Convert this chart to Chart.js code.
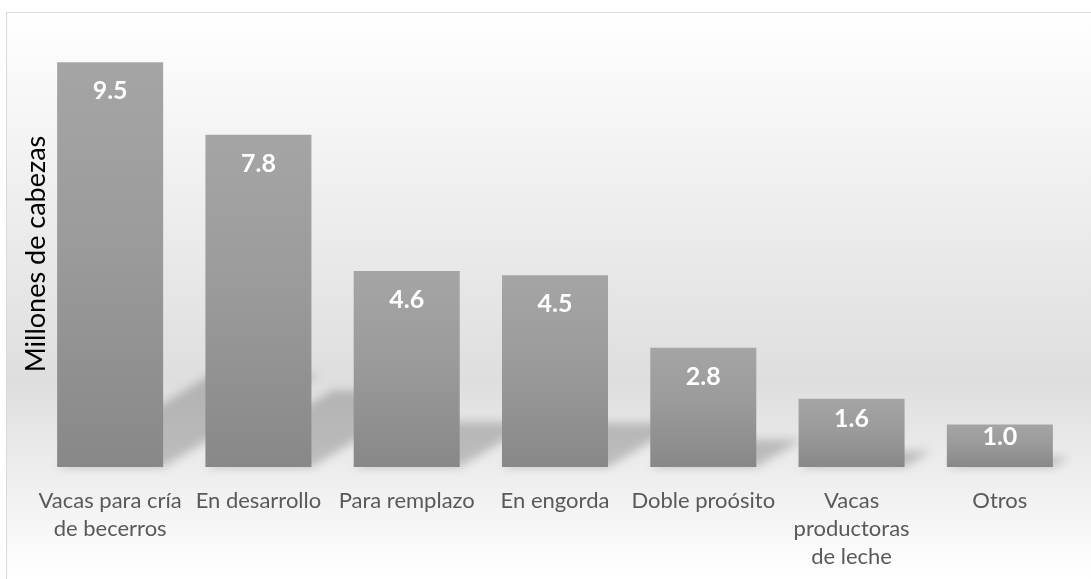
<!DOCTYPE html>
<html>
<head>
<meta charset="utf-8">
<script src="https://cdn.jsdelivr.net/npm/chart.js@4"></script>
<style>
  html, body { margin: 0; padding: 0; background: #fff; }
  #wrap { width: 1091px; height: 579px; }
</style>
</head>
<body>
<div id="wrap"><canvas id="chart" width="1091" height="579"></canvas></div>
<script>
const categories = [
  ["Vacas para cría", "de becerros"],
  "En desarrollo",
  "Para remplazo",
  "En engorda",
  "Doble proósito",
  ["Vacas", "productoras", "de leche"],
  "Otros",
];
const cabezas = [9.5, 7.8, 4.6, 4.5, 2.8, 1.6, 1.0];
const yTitle = "Millones de cabezas";

// chart background: light gradient inside a thin frame
const backdrop = {
  id: "backdrop",
  beforeDraw(chart) {
    const { ctx, width, height } = chart;
    ctx.save();
    ctx.fillStyle = "#ffffff";
    ctx.fillRect(0, 0, width, height);
    const g = ctx.createLinearGradient(0, 12, 0, height);
    g.addColorStop(0, "#ffffff");
    g.addColorStop(0.35, "#ededed");
    g.addColorStop(0.65, "#dedede");
    g.addColorStop(0.85, "#f1f1f1");
    g.addColorStop(1, "#ffffff");
    ctx.fillStyle = g;
    ctx.fillRect(6, 12, width - 6, height - 12);
    ctx.strokeStyle = "#d9d9d9";
    ctx.lineWidth = 1;
    ctx.beginPath();
    ctx.moveTo(6.5, height);
    ctx.lineTo(6.5, 12.5);
    ctx.lineTo(width, 12.5);
    ctx.stroke();
    ctx.restore();
  },
};

// soft perspective shadow cast behind each bar
const barShadows = {
  id: "barShadows",
  beforeDatasetsDraw(chart) {
    const { ctx } = chart;
    const meta = chart.getDatasetMeta(0);
    ctx.save();
    ctx.filter = "blur(5px)";
    ctx.fillStyle = "rgba(0, 0, 0, 0.2)";
    meta.data.forEach((bar) => {
      const { x, y, base, width } = bar.getProps(["x", "y", "base", "width"], true);
      const h = base - y;
      const dy = h * 0.23;
      const dx = dy / 0.6;
      const left = x - width / 2;
      const right = x + width / 2;
      ctx.beginPath();
      ctx.moveTo(left, base);
      ctx.lineTo(right, base);
      ctx.lineTo(right + dx, base - dy);
      ctx.lineTo(left + dx, base - dy);
      ctx.closePath();
      ctx.fill();
    });
    ctx.restore();
  },
};

// white value labels just inside the top of each bar
const valueLabels = {
  id: "valueLabels",
  afterDatasetsDraw(chart) {
    const { ctx } = chart;
    const meta = chart.getDatasetMeta(0);
    ctx.save();
    ctx.fillStyle = "#ffffff";
    ctx.font = "bold 25px Lato";
    ctx.textAlign = "center";
    ctx.textBaseline = "middle";
    meta.data.forEach((bar, i) => {
      const { x, y, base } = bar.getProps(["x", "y", "base"], true);
      const off = Math.min(29, (base - y) * 0.3);
      ctx.fillText(cabezas[i].toFixed(1), x, y + off);
    });
    ctx.restore();
  },
};

function barFill(context) {
  const chart = context.chart;
  if (!chart.chartArea) return "#999999";
  const yScale = chart.scales.y;
  const top = yScale.getPixelForValue(context.raw);
  const bottom = yScale.getPixelForValue(0);
  const g = chart.ctx.createLinearGradient(0, top, 0, bottom);
  g.addColorStop(0, "#a5a5a5");
  g.addColorStop(0.45, "#9b9b9b");
  g.addColorStop(1, "#888888");
  return g;
}

new Chart(document.getElementById("chart"), {
  type: "bar",
  data: {
    labels: categories,
    datasets: [
      {
        data: cabezas,
        backgroundColor: barFill,
        borderWidth: 0,
        categoryPercentage: 1,
        barPercentage: 0.715,
      },
    ],
  },
  options: {
    responsive: false,
    animation: false,
    devicePixelRatio: 1,
    layout: { padding: { left: 20, right: 17, top: 41, bottom: 0 } },
    plugins: {
      legend: { display: false },
      tooltip: { enabled: false },
    },
    scales: {
      x: {
        grid: { display: false },
        border: { display: false },
        ticks: {
          color: "#595959",
          font: { family: "Lato", size: 22, lineHeight: 1.28 },
          padding: 12,
          maxRotation: 0,
          autoSkip: false,
        },
        afterFit(scale) {
          scale.height = 112;
        },
      },
      y: {
        min: 0,
        max: 10,
        grid: { display: false },
        border: { display: false },
        ticks: { display: false },
        title: {
          display: true,
          text: yTitle,
          color: "#000000",
          font: { family: "Lato", size: 27 },
          padding: 0,
        },
        afterFit(scale) {
          scale.width = 16;
        },
      },
    },
  },
  plugins: [backdrop, barShadows, valueLabels],
});
</script>
</body>
</html>
